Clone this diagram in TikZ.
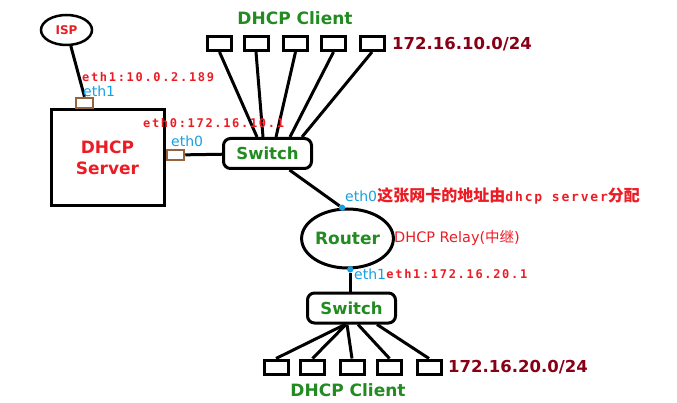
\documentclass[tikz,border=0pt]{standalone}
\usepackage{fontspec}
\setmainfont{DejaVu Sans}
\newfontfamily\cjk{Noto Sans CJK SC}
\newfontfamily\monofont{DejaVu Sans Mono}
\newfontfamily\monoancho{DejaVu Sans Mono}[LetterSpace=14]
\usetikzlibrary{shapes,arrows,positioning}
\definecolor{rojo}{RGB}{236,28,36}
\definecolor{verde}{RGB}{34,139,34}
\definecolor{azul}{RGB}{20,160,225}
\definecolor{granate}{RGB}{136,0,21}
\definecolor{cafe}{RGB}{150,100,60}
\tikzstyle{enlace} = [line width=3pt]
\tikzstyle{equipo} = [draw, line width=3pt, rectangle, minimum width=24pt, minimum height=14pt, inner sep=0pt]
\tikzstyle{conmutador} = [draw, line width=3pt, rectangle, rounded corners=7pt, minimum width=88pt, minimum height=30pt, inner sep=0pt, text=verde, font=\fontsize{16.5}{18}\selectfont\bfseries]
\tikzstyle{puerto} = [draw=cafe, line width=2.5pt, rectangle, fill=white, minimum width=17pt, minimum height=10pt, inner sep=0pt]
\tikzstyle{punto} = [circle, fill=azul, minimum size=6pt, inner sep=0pt]
\tikzstyle{titulo} = [inner sep=0pt, text=verde, font=\fontsize{17}{18}\selectfont\bfseries]
\tikzstyle{red} = [inner sep=0pt, anchor=west, text=granate, font=\fontsize{16.5}{18}\selectfont\bfseries]
\tikzstyle{interfaz} = [inner sep=0pt, anchor=west, text=azul, font=\fontsize{14}{16}\selectfont]
\tikzstyle{direccion} = [inner sep=0pt, anchor=west, text=rojo, font=\fontsize{12}{14}\selectfont\monoancho\bfseries]

\begin{document}
\begin{tikzpicture}[x=1pt,y=-1pt]
	\useasboundingbox (0,0) rectangle (677,403);
	\node [draw, line width=2.5pt, ellipse, minimum width=51pt, minimum height=30pt, inner sep=0pt, text=rojo, font=\fontsize{12}{14}\selectfont\bfseries] (isp) at (66.5,30) {ISP};
	\node [draw, line width=3pt, rectangle, minimum width=113pt, minimum height=96pt, align=center, text=rojo, font=\fontsize{17}{21}\selectfont\bfseries] (srv) at (107.5,158) {DHCP\\Server};
	\node [puerto] (p1) at (84.5,103) {};
	\node [puerto] (p0) at (175.5,155) {};
	\node [conmutador] (sw1) at (267.5,153.5) {Switch};
	\node [draw, line width=3pt, ellipse, minimum width=69pt, minimum height=59pt, inner sep=0pt, text=verde, font=\fontsize{17}{20}\selectfont\bfseries] (rt) at (347.5,238.5) {Router};
	\node [conmutador] (sw2) at (351.5,308) {Switch};

	\foreach \n/\x in {1/219.5,2/256,3/295.5,4/333.5,5/372}
		\node [equipo] (ca\n) at (\x,43.5) {};
	\foreach \n/\x in {1/276,2/312.5,3/352,4/389.5,5/429}
		\node [equipo] (cb\n) at (\x,367) {};

	\draw [enlace] (isp) -- (p1.north);
	\draw [enlace] (p0) -- (sw1);
	\foreach \n/\d in {1/-10.5,2/-4.5,3/8.5,4/22.5,5/34.5}
		\draw [enlace] (ca\n.south) -- ([xshift=\d pt]sw1.north);
	\foreach \n/\d in {1/-6.5,2/-5.5,3/-4.5,4/6.5,5/25.5}
		\draw [enlace] ([xshift=\d pt]sw2.south) -- (cb\n.north);
	\node [punto] (d0) at (rt.100) {};
	\node [punto] (d1) at (rt.275) {};
	\draw [enlace] ([xshift=22pt]sw1.south) -- (d0);
	\draw [enlace] (d1) -- (d1 |- sw2.north);
	\node [punto] at (d0) {};
	\node [punto] at (d1) {};

	\node [titulo] (tca) at (295,18) {DHCP Client};
	\node [titulo] (tcb) at (348,390) {DHCP Client};
	\node [red] (na) at (392,44) {172.16.10.0/24};
	\node [red] (nb) at (448,367) {172.16.20.0/24};
	\node [direccion] (ip1) at (82,77) {eth1:10.0.2.189};
	\node [interfaz] (e1) at (83,91) {eth1};
	\node [direccion] (ip0) at (143,123) {eth0:172.16.10.1};
	\node [interfaz] (e0) at (171,141) {eth0};
	\node [interfaz] (re0) at (345,196) {eth0};
	\node [inner sep=0pt, anchor=west, text=rojo, font=\fontsize{16}{17}\selectfont\bfseries] (nota) at (re0.east) {{\cjk 这张网卡的地址由}{\fontsize{13}{14}\selectfont\monoancho dhcp server}{\cjk 分配}};
	\node [inner sep=0pt, anchor=west, text=rojo, font=\fontsize{14.5}{16}\selectfont] (relay) at (394,238) {DHCP Relay({\cjk 中继})};
	\node [interfaz] (re1) at (354,274) {eth1};
	\node [direccion] (ip2) at (re1.east) {eth1:172.16.20.1};
\end{tikzpicture}
\end{document}
